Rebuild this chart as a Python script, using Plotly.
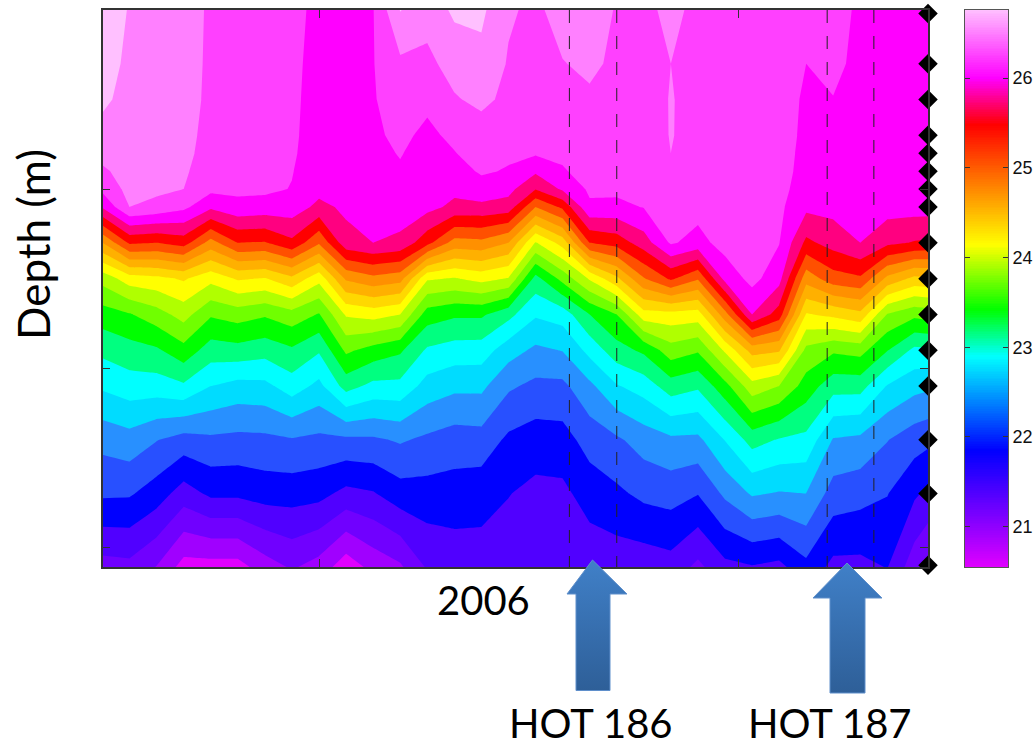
import numpy as np
import plotly.graph_objects as go

W, H = 1036, 749

# Time in days from the left edge of the axis (no labels are printed on it)
days = [0, 2, 4, 6, 8, 10, 12, 14, 16, 18, 20, 22, 24, 26, 28, 30, 32, 34, 36, 38,
        40, 42, 44, 46, 48, 50, 52, 54, 56, 58, 60, 61]
# Depth of each row in the temperature grid (m)
grid_depths = [0, 30, 50, 70, 80, 90, 100, 110, 130, 150, 170, 190, 210, 240, 270, 311]
# Instrument depths marked with diamonds (m)
sensor_depths = [2, 30, 50, 70, 80, 90, 100, 110, 130, 150, 170, 190, 210, 240, 270, 310]
month_ticks = [16, 47]
depth_ticks = [0, 100, 200, 300]
cruise_days = [34.5, 38.0, 53.55, 57.0]
scale_ticks = [21, 22, 23, 24, 25, 26]

# Temperature (deg C): one list per time column, top to bottom
temperature_by_day = [
    [26.68, 26.60, 26.54, 26.43, 26.33, 26.21, 26.06, 25.78, 24.75, 23.84, 23.38, 23.06, 22.79, 22.33, 22.04, 21.40],
    [26.48, 26.45, 26.43, 26.40, 26.38, 26.35, 26.33, 26.25, 25.29, 24.13, 23.48, 23.15, 22.88, 22.40, 22.03, 21.43],
    [26.48, 26.45, 26.43, 26.39, 26.36, 26.34, 26.30, 26.18, 25.25, 24.18, 23.64, 23.21, 22.88, 22.26, 21.88, 21.24],
    [26.40, 26.39, 26.38, 26.35, 26.33, 26.29, 26.25, 26.06, 25.36, 24.28, 23.85, 23.41, 22.96, 22.15, 21.63, 20.90],
    [26.20, 26.19, 26.18, 26.15, 26.13, 26.10, 26.06, 25.80, 24.90, 24.08, 23.53, 23.13, 22.75, 22.20, 21.80, 20.90],
    [26.20, 26.18, 26.15, 26.13, 26.10, 26.08, 26.05, 25.93, 25.25, 24.28, 23.61, 23.16, 22.66, 22.18, 21.80, 20.90],
    [26.18, 26.16, 26.15, 26.13, 26.10, 26.08, 26.05, 25.90, 25.23, 24.23, 23.53, 23.10, 22.68, 22.19, 21.86, 21.13],
    [26.08, 26.06, 26.05, 26.04, 26.03, 26.01, 25.99, 25.89, 25.44, 24.44, 23.65, 23.21, 22.88, 22.23, 21.86, 21.28],
    [25.93, 25.91, 25.90, 25.89, 25.88, 25.86, 25.83, 25.68, 25.03, 24.08, 23.48, 23.03, 22.68, 22.19, 21.83, 21.15],
    [25.93, 25.90, 25.89, 25.88, 25.86, 25.85, 25.84, 25.80, 25.66, 24.79, 24.03, 23.55, 23.10, 22.20, 21.68, 20.85],
    [25.99, 25.99, 25.98, 25.96, 25.95, 25.93, 25.90, 25.85, 25.75, 24.93, 24.10, 23.40, 22.93, 22.21, 21.73, 21.08],
    [26.51, 26.20, 26.13, 26.05, 26.01, 25.98, 25.93, 25.88, 25.69, 24.85, 24.00, 23.29, 22.93, 22.28, 21.89, 21.21],
    [26.33, 26.20, 26.05, 25.95, 25.93, 25.90, 25.86, 25.83, 25.33, 24.03, 23.38, 22.96, 22.65, 22.20, 21.90, 21.53],
    [26.55, 26.33, 26.23, 26.05, 25.99, 25.90, 25.81, 25.69, 24.90, 23.98, 23.29, 22.89, 22.56, 22.13, 21.89, 21.60],
    [26.55, 26.43, 26.30, 26.15, 26.10, 26.03, 25.90, 25.69, 24.93, 24.08, 23.29, 22.88, 22.56, 22.15, 21.85, 21.63],
    [26.28, 26.23, 26.20, 26.13, 26.04, 25.98, 25.83, 25.64, 24.75, 23.98, 23.08, 22.61, 22.29, 21.95, 21.76, 21.60],
    [26.20, 26.18, 26.15, 26.08, 26.03, 25.79, 25.51, 25.00, 23.98, 23.16, 22.78, 22.45, 22.19, 21.88, 21.68, 21.55],
    [26.35, 26.24, 26.15, 26.08, 26.04, 25.98, 25.79, 25.30, 24.35, 23.58, 22.86, 22.51, 22.19, 21.90, 21.69, 21.55],
    [26.38, 26.30, 26.21, 26.13, 26.10, 26.08, 26.04, 25.96, 25.25, 24.03, 23.25, 22.83, 22.44, 22.10, 21.86, 21.58],
    [26.23, 26.20, 26.18, 26.14, 26.11, 26.09, 26.05, 25.94, 25.35, 24.44, 23.50, 23.15, 22.73, 22.21, 21.95, 21.60],
    [26.20, 26.18, 26.16, 26.14, 26.11, 26.09, 26.05, 26.01, 25.63, 24.98, 24.15, 23.30, 22.86, 22.36, 22.06, 21.60],
    [26.30, 26.25, 26.26, 26.26, 26.25, 26.23, 26.18, 26.13, 26.03, 25.29, 24.16, 23.64, 23.13, 22.45, 22.10, 21.65],
    [26.20, 26.20, 26.19, 26.18, 26.16, 26.15, 26.13, 26.09, 25.91, 25.03, 24.13, 23.53, 23.04, 22.44, 22.01, 21.44],
    [26.18, 26.18, 26.18, 26.16, 26.15, 26.14, 26.13, 26.10, 26.10, 25.83, 24.90, 24.04, 23.41, 22.76, 22.30, 21.68],
    [26.18, 26.18, 26.18, 26.16, 26.16, 26.15, 26.15, 26.14, 26.13, 26.08, 25.75, 24.60, 23.90, 23.10, 22.53, 21.73],
    [26.18, 26.16, 26.15, 26.14, 26.13, 26.11, 26.09, 26.05, 26.01, 25.84, 25.38, 24.53, 23.75, 22.98, 22.48, 21.68],
    [26.08, 26.00, 25.95, 25.93, 25.91, 25.90, 25.86, 25.81, 25.44, 24.85, 24.23, 23.68, 23.39, 22.93, 22.50, 21.93],
    [26.15, 26.08, 25.99, 25.93, 25.91, 25.90, 25.85, 25.83, 25.60, 25.14, 24.31, 23.54, 23.10, 22.48, 22.14, 21.68],
    [25.93, 25.91, 25.90, 25.89, 25.88, 25.88, 25.86, 25.84, 25.75, 25.21, 24.43, 23.59, 23.10, 22.44, 22.09, 21.68],
    [25.93, 25.91, 25.90, 25.89, 25.89, 25.88, 25.86, 25.85, 25.56, 24.68, 23.73, 23.26, 22.73, 22.26, 22.01, 21.76],
    [25.93, 25.91, 25.91, 25.90, 25.90, 25.89, 25.88, 25.85, 25.48, 24.43, 23.56, 22.94, 22.58, 22.11, 21.79, 21.35],
    [25.93, 25.91, 25.91, 25.90, 25.90, 25.89, 25.88, 25.85, 25.46, 24.45, 23.60, 22.95, 22.55, 22.06, 21.70, 21.20],
]

band_colors = ["#e000ff", "#a000ff", "#7000ff", "#5000ff", "#0000ff", "#2850ff", "#2890ff", "#00dcff",
               "#00ffff", "#00ff80", "#00ff00", "#70ff00", "#b0ff00", "#ffff00", "#ffd800", "#ffb000",
               "#ff9000", "#ff5000", "#ff0000", "#ff0080", "#ff00ff", "#ff40ff", "#ff80ff", "#ffc0ff"]

scale_min, scale_max = 20.55, 26.76
scale_stops = [(20.55, "#e000ff"), (21.0, "#9000ff"), (21.85, "#0000ff"), (22.9, "#00ffff"),
               (23.42, "#00ff00"), (24.14, "#ffff00"), (25.48, "#ff0000"), (26.0, "#ff00ff"),
               (26.76, "#ffc0ff")]


def px(x):
    return x / W


def py(y):
    return 1 - y / H


z = np.array(temperature_by_day).T
colorscale = [[k / 23, c] for k, c in enumerate(band_colors)]

fig = go.Figure()

fig.add_trace(go.Contour(
    x=days, y=grid_depths, z=z, xaxis="x", yaxis="y",
    autocontour=False,
    contours=dict(coloring="fill", showlines=False, start=21.0, end=26.5, size=0.25),
    colorscale=colorscale, showscale=False, line=dict(width=0, smoothing=0), hoverinfo="skip",
))

fig.add_trace(go.Scatter(
    x=[61] * len(sensor_depths), y=sensor_depths, mode="markers", xaxis="x", yaxis="y",
    marker=dict(symbol="diamond", size=15, color="black"), cliponaxis=False, showlegend=False,
))

scale_values = np.linspace(scale_min, scale_max, 320)
fig.add_trace(go.Heatmap(
    x=[0, 1], y=scale_values, z=[[v, v] for v in scale_values], xaxis="x2", yaxis="y2",
    zmin=scale_min, zmax=scale_max, showscale=False, hoverinfo="skip",
    colorscale=[[(v - scale_min) / (scale_max - scale_min), c] for v, c in scale_stops],
))

# Block arrows pointing at the two cruises, in page pixels
arrow_outlines = [
    ([592.5, 627, 610, 610, 576, 576, 567, 592.5], [560, 594, 594, 690.5, 690.5, 594, 594, 560]),
    ([847, 882, 865, 865, 830, 830, 813, 847], [563, 598, 598, 693, 693, 598, 598, 563]),
]
for ax, ay in arrow_outlines:
    fig.add_trace(go.Scatter(
        x=ax, y=ay, mode="lines", fill="toself", xaxis="x3", yaxis="y3",
        line=dict(color="#5f8fcb", width=1), showlegend=False, hoverinfo="skip",
        fillgradient=dict(type="vertical", colorscale=[[0, "#2e5f98"], [1, "#4080c8"]]),
    ))

axis_line = dict(showline=True, linecolor="#333333", linewidth=1.5, mirror="allticks",
                 ticks="inside", tickcolor="#333333", tickwidth=1, showgrid=False, zeroline=False)

text_font = dict(family="Lato", size=40, color="black")
label = dict(xref="paper", yref="paper", xanchor="center", yanchor="middle", showarrow=False, font=text_font)

fig.update_layout(
    width=W, height=H, margin=dict(l=0, r=0, t=0, b=0), showlegend=False,
    paper_bgcolor="white", plot_bgcolor="rgba(0,0,0,0)",
    xaxis=dict(domain=[px(102.5), px(928)], range=[0, 61], tickvals=month_ticks, ticklen=8,
               showticklabels=False, **axis_line),
    yaxis=dict(domain=[py(567), py(10)], range=[311, 0], tickvals=depth_ticks, ticklen=8,
               showticklabels=False, **axis_line),
    xaxis2=dict(domain=[px(965), px(1008)], range=[0, 1], showticklabels=False, anchor="y2",
                showline=True, linecolor="#555555", linewidth=1, mirror=True, ticks="",
                showgrid=False, zeroline=False),
    yaxis2=dict(domain=[py(567), py(10)], range=[scale_min, scale_max], anchor="x2", side="right",
                tickvals=scale_ticks, ticklen=5,
                showline=True, linecolor="#555555", linewidth=1, mirror="allticks",
                ticks="inside", tickcolor="#333333", showgrid=False, zeroline=False,
                tickfont=dict(family="Liberation Sans", size=18, color="#111111")),
    xaxis3=dict(domain=[0, 1], range=[0, W], visible=False, anchor="y3", fixedrange=True),
    yaxis3=dict(domain=[0, 1], range=[H, 0], visible=False, anchor="x3", fixedrange=True),
    shapes=[dict(type="line", xref="x", yref="y", x0=d, x1=d, y0=0, y1=311, layer="above",
                 line=dict(color="#222222", width=1, dash="13px,13px")) for d in cruise_days],
    annotations=[
        dict(text="Depth (m)", x=px(33), y=py(245), textangle=-90,
             **{**label, "font": dict(family="Lato", size=44, color="black")}),
        dict(text="2006", x=px(483), y=py(600), **label),
        dict(text="HOT 186", x=px(591), y=py(723), **label),
        dict(text="HOT 187", x=px(830), y=py(723), **label),
    ],
)

fig.write_html("out.html", config=dict(displayModeBar=False),
               post_script="document.body.style.margin='0';document.body.style.overflow='hidden';")
